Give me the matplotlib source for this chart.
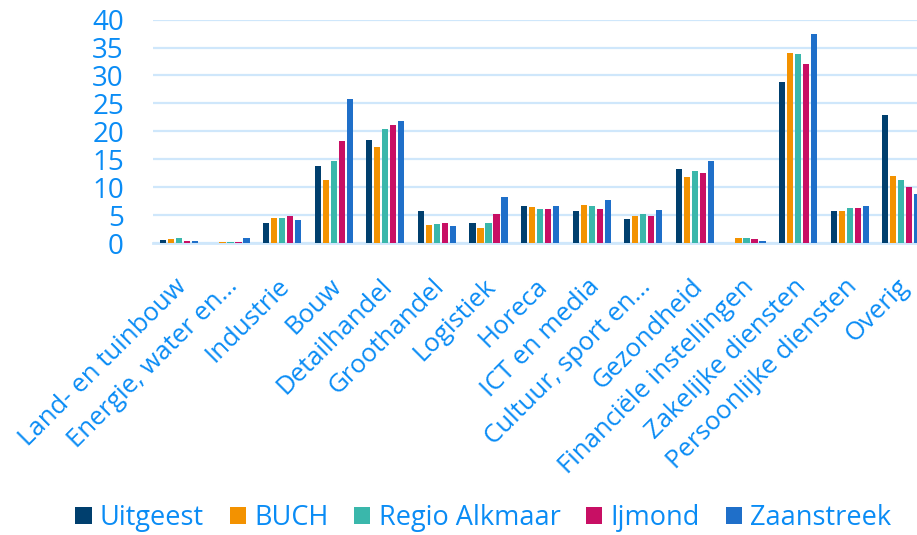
import matplotlib
matplotlib.use("Agg")
import matplotlib.pyplot as plt
import matplotlib.transforms as mtransforms
import numpy as np

# sectors on the x axis
sectors = ["Land- en tuinbouw", "Energie, water en…", "Industrie", "Bouw",
           "Detailhandel", "Groothandel", "Logistiek", "Horeca", "ICT en media",
           "Cultuur, sport en…", "Gezondheid", "Financiële instellingen",
           "Zakelijke diensten", "Persoonlijke diensten", "Overig"]

# share per region (%)
uitgeest = [0.6, 0.0, 3.6, 13.9, 18.5, 5.8, 3.6, 6.7, 5.8, 4.3, 13.3, 0.0, 28.8, 5.8, 22.9]
buch = [0.8, 0.25, 4.6, 11.4, 17.3, 3.2, 2.7, 6.5, 6.8, 4.8, 11.8, 0.95, 34.1, 5.7, 12.0]
regio_alkmaar = [0.9, 0.25, 4.6, 14.8, 20.4, 3.5, 3.6, 6.1, 6.7, 5.2, 13.0, 0.95, 33.8, 6.25, 11.25]
ijmond = [0.5, 0.25, 4.9, 18.3, 21.1, 3.6, 5.2, 6.1, 6.1, 4.9, 12.6, 0.75, 32.0, 6.4, 10.1]
zaanstreek = [0.5, 1.0, 4.2, 25.8, 21.8, 3.1, 8.2, 6.7, 7.7, 6.0, 14.8, 0.4, 37.4, 6.7, 8.9]

regions = ["Uitgeest", "BUCH", "Regio Alkmaar", "Ijmond", "Zaanstreek"]
colors = ["#003f6e", "#f39200", "#3ab7ab", "#c80f64", "#1f6fc9"]
series = [uitgeest, buch, regio_alkmaar, ijmond, zaanstreek]

txt_blue = "#0a8cf5"
grid_blue = "#cfe7fb"

plt.rcParams["font.family"] = ["Open Sans", "DejaVu Sans"]

fig = plt.figure(figsize=(9.17, 5.35), dpi=100)
ax = fig.add_axes([0.1669, 0.5452, 0.8441, 0.4183])

x = np.arange(len(sectors))
step = 0.155
for i, (vals, c, name) in enumerate(zip(series, colors, regions)):
    ax.bar(x + (i - 2) * step, vals, width=0.122, color=c, label=name, zorder=3)

ax.set_xlim(-0.5, len(sectors) - 0.5)
ax.set_ylim(0, 40)
ax.set_yticks(range(0, 41, 5))
ax.grid(axis="y", color=grid_blue, linewidth=1.6, zorder=0)
ax.set_axisbelow(True)
for s in ["top", "right", "left"]:
    ax.spines[s].set_visible(False)
ax.spines["bottom"].set_color(grid_blue)
ax.spines["bottom"].set_linewidth(2)

ax.tick_params(axis="y", length=0, pad=21, labelsize=20, labelcolor=txt_blue)
ax.tick_params(axis="x", length=0, pad=22, labelsize=18.5, labelcolor=txt_blue)
ax.set_xticks(x)
ax.set_xticklabels(sectors, rotation=45, ha="right", rotation_mode="anchor")
# nudge the slanted labels a little to the left
shift = mtransforms.ScaledTranslation(-0.05, 0, fig.dpi_scale_trans)
for lab in ax.get_xticklabels():
    lab.set_transform(lab.get_transform() + shift)

leg = fig.legend(loc="center", bbox_to_anchor=(0.527, 0.032), ncol=5, frameon=False,
                 fontsize=19.5, handlelength=0.6, handleheight=0.6, handletextpad=0.3,
                 columnspacing=0.95)
for t in leg.get_texts():
    t.set_color(txt_blue)

fig.savefig("out.png", dpi=100)
